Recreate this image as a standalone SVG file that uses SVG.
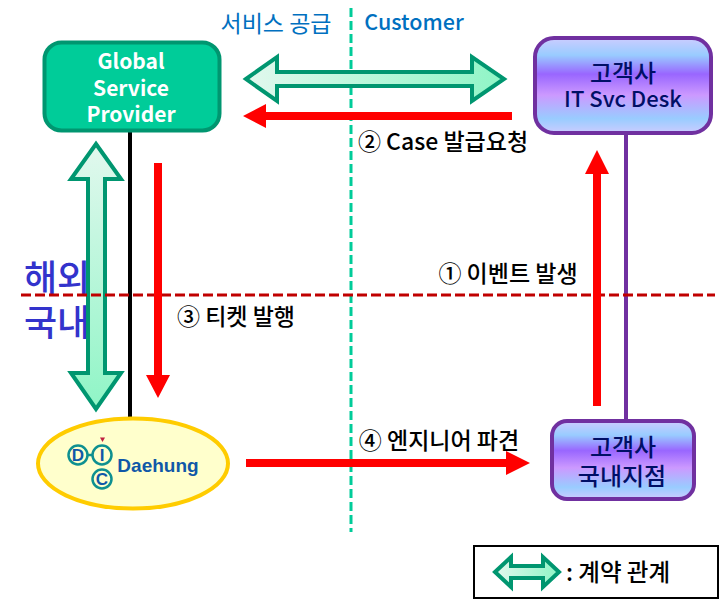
<svg xmlns="http://www.w3.org/2000/svg" width="720" height="601" viewBox="0 0 720 601">
<style>
text{font-family:"Noto Sans CJK KR","Noto Sans",sans-serif;text-anchor:middle}
.lbl{font-size:23px;font-weight:500;fill:#000}
.top{font-size:23px;font-weight:400;fill:#0070C0}
.big{font-size:36px;font-weight:500;fill:#3333CC;text-anchor:start}
.gsp{font-size:21px;font-weight:700;fill:#fff}
.cust{font-size:22px;font-weight:500;fill:#000F66}
.kr{font-size:24px}
.dbl{stroke:#009670;stroke-width:4;stroke-linejoin:miter}
.red{fill:#f00}
.logo{fill:none;stroke:#0E9090;stroke-width:2.5}
.ltr{font-family:"Liberation Sans",Arial,sans-serif;fill:#1058A8;font-weight:700}
</style>
<defs>
<linearGradient id="h" x1="0" x2="1" y1="0" y2="0"><stop offset="0" stop-color="#E2F8EE"/><stop offset="1" stop-color="#8FF5C6"/></linearGradient>
<linearGradient id="v" x1="0" x2="0" y1="0" y2="1"><stop offset="0" stop-color="#E2F8EE"/><stop offset="1" stop-color="#8FF5C6"/></linearGradient>
<linearGradient id="c" x1="0" x2="0" y1="0" y2="1"><stop offset="0" stop-color="#CCCCFF"/><stop offset=".18" stop-color="#99CCFF"/><stop offset=".38" stop-color="#9966FF"/><stop offset=".6" stop-color="#CC99FF"/><stop offset=".85" stop-color="#99CCFF"/><stop offset="1" stop-color="#CCCCFF"/></linearGradient>
</defs>
<text class="top" x="276" y="32">서비스 공급</text>
<text class="top" x="414" y="30" style="font-size:21.500px;font-weight:500">Customer</text>
<text class="big" x="24" y="291">해외</text>
<text class="big" x="24" y="336">국내</text>
<g id="connectors">
<line x1="351" y1="8" x2="351" y2="532" stroke="#00CC99" stroke-width="3" stroke-dasharray="9 4"/>
<line x1="130" y1="131" x2="130" y2="418" stroke="#000" stroke-width="4"/>
<line x1="626" y1="133" x2="626" y2="421" stroke="#7030A0" stroke-width="4"/>
<path class="dbl" fill="url(#h)" d="M246 79L277 57V72H472V57L504 79L472 101V86H277V101Z"/>
<path class="dbl" fill="url(#v)" d="M96 144L121 179H105V373H121L96 409L71 373H88V179H71Z"/>
<line x1="21" y1="295" x2="715" y2="295" stroke="#C00000" stroke-width="3" stroke-dasharray="10 4"/>
<path class="red" d="M243 116L266 104V112H512V120H266V128Z"/>
<path class="red" d="M154 163H162V375H170L158 398L146 375H154Z"/>
<path class="red" d="M593 406V174H585L597 150L609 174H601V406Z"/>
<path class="red" d="M246 459H506V451L530 463L506 475V467H246Z"/>
</g>
<g id="global-service-provider">
<rect x="44.500" y="42.500" width="175" height="88" rx="17" fill="#00CC99" stroke="#009670" stroke-width="4"/>
<text class="gsp" x="131" y="69">Global</text>
<text class="gsp" x="131" y="96">Service</text>
<text class="gsp" x="131" y="122">Provider</text>
</g>
<g id="customer-desk">
<rect x="535" y="38" width="176" height="95" rx="19" fill="url(#c)" stroke="#7030A0" stroke-width="4"/>
<text class="cust kr" x="623" y="82">고객사</text>
<text class="cust" x="623" y="107">IT Svc Desk</text>
</g>
<g id="daehung">
<ellipse cx="133" cy="463.500" rx="95" ry="45" fill="#FFFFCC" stroke="#FFCC00" stroke-width="4"/>
<circle class="logo" cx="78" cy="455" r="9.500"/>
<circle class="logo" cx="102" cy="455" r="9.500"/>
<circle class="logo" cx="102" cy="479" r="9.500"/>
<line class="logo" x1="88" y1="455" x2="92" y2="455"/>
<path d="M100 437.500H105L102.500 442Z" fill="#C02040"/>
<text class="ltr" x="78" y="461" style="font-size:17px">D</text>
<text class="ltr" x="102" y="461" style="font-size:17px">I</text>
<text class="ltr" x="102" y="485" style="font-size:17px">C</text>
<text class="ltr" x="158" y="472" style="font-size:19px">Daehung</text>
</g>
<g id="customer-branch">
<rect x="552" y="421" width="142" height="78" rx="15" fill="url(#c)" stroke="#7030A0" stroke-width="4"/>
<text class="cust kr" x="623" y="456">고객사</text>
<text class="cust kr" x="622" y="485">국내지점</text>
</g>
<text class="lbl" x="443" y="150">② Case 발급요청</text>
<text class="lbl" x="508" y="282">① 이벤트 발생</text>
<text class="lbl" x="236" y="325">③ 티켓 발행</text>
<text class="lbl" x="439" y="449">④ 엔지니어 파견</text>
<g id="legend">
<rect x="474" y="546" width="244" height="52" fill="#fff" stroke="#000" stroke-width="2"/>
<path class="dbl" fill="url(#h)" d="M495 572L511 557V566H543V557L559 572L543 587V578H511V587Z"/>
<text class="lbl" x="618" y="581" style="font-size:23.500px">: 계약 관계</text>
</g>
</svg>
